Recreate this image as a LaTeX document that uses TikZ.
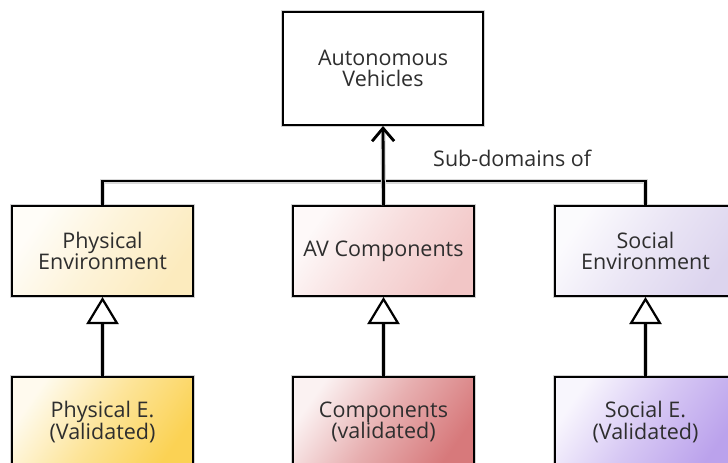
\documentclass[tikz,border=0pt]{standalone}
\usepackage{fontspec}
\setmainfont{Open Sans}
\usetikzlibrary{arrows.meta}
\definecolor{txt}{HTML}{2E2E2E}
\definecolor{peC}{HTML}{FCEBBE}
\definecolor{pevC}{HTML}{FBD254}
\definecolor{avC}{HTML}{F2C6C6}
\definecolor{cvC}{HTML}{D7797B}
\definecolor{seC}{HTML}{DCD4EE}
\definecolor{sevC}{HTML}{BBA2EC}
\tikzset{
  box/.style={draw=black, line width=2pt, minimum width=181pt, minimum height=90pt,
    align=center, text=txt, font=\fontsize{21.5}{21.5}\selectfont, inner sep=0pt,
    preaction={draw=gray!35, line width=4pt}},
  shadebox/.style={box, shading=axis, top color=#1!10!white, bottom color=#1, middle color=#1!60!white, shading angle=55},
  conn/.style={draw=black, line width=2.8pt, preaction={draw=gray!30, line width=5pt}},
  lbl/.style={text=txt, font=\fontsize{21.5}{21.5}\selectfont, inner sep=0pt}
}
\begin{document}
\begin{tikzpicture}[x=1pt,y=-1pt]
\useasboundingbox (0,0) rectangle (728,463);
\begin{scope}
\clip (0,0) rectangle (728,463);
\node[box, fill=white, minimum width=200pt, minimum height=113pt] (top) at (383,68.5) {Autonomous\\Vehicles};
\node[shadebox=peC] (pe) at (102.5,251) {Physical\\Environment};
\node[shadebox=avC] (avc) at (383.5,251) {AV Components};
\node[shadebox=seC] (se) at (645.5,251) {Social\\Environment};
\node[shadebox=pevC] (pev) at (102.5,422) {Physical E.\\(Validated)};
\node[shadebox=cvC] (cv) at (383.5,422) {Components\\(validated)};
\node[shadebox=sevC] (sev) at (645.5,422) {Social E.\\(Validated)};
\coordinate (bar) at (383.5,181);
\draw[conn] (pe.north) |- (bar) -| (se.north);
\draw[conn, -{Straight Barb[length=13pt,width=22pt,line width=2.8pt]}] (avc.north) -- (top.south);
\node[lbl, anchor=south west] (sub) at (433,167) {Sub-domains of};
\foreach \a/\b in {pev/pe, cv/avc, sev/se}
  \draw[conn, -{Triangle[open, fill=white, length=27pt, width=32pt, line width=2.2pt]}] (\a.north) -- (\b.south);
\end{scope}
\end{tikzpicture}
\end{document}
